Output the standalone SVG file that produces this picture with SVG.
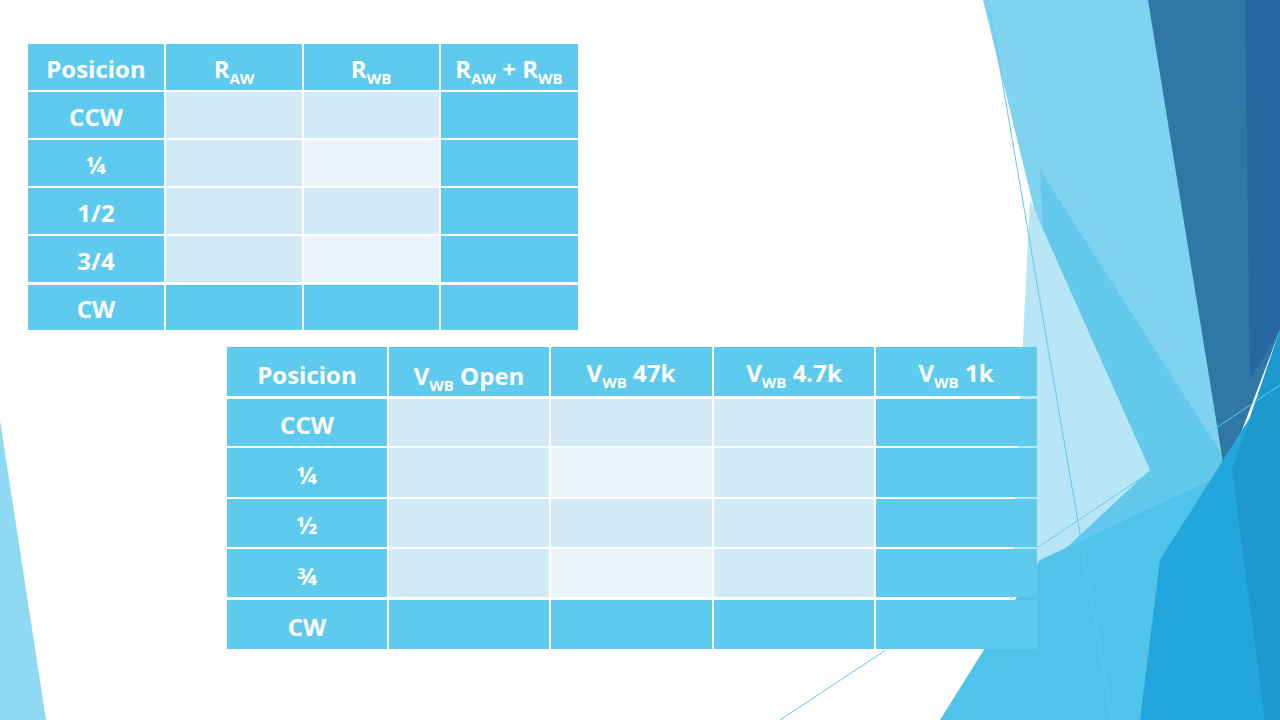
<svg xmlns="http://www.w3.org/2000/svg" width="1280" height="720" viewBox="0 0 1280 720">
<style>
.h{fill:#5ecbee}.a{fill:#d3eaf7}.b{fill:#eaf5fb}
text{font-family:"Open Sans","DejaVu Sans",sans-serif;font-weight:bold;fill:#fff;font-size:24px;text-anchor:middle}
.s{font-size:15px}
.ln{stroke:#5ecbee;stroke-width:1;fill:none}
</style>
<rect width="1280" height="720" fill="#fff"/>
<g id="deco">
<polygon points="0,420 0,720 46,720" fill="#8fd9f3"/>
<polygon points="983,0 1150,0 1232,470 1120,560" fill="#7fd2f0"/>
<polygon points="1040,170 1232,470 1150,560 1060,600" fill="#62c9ec"/>
<polygon points="1030,200 1150,470 1010,600" fill="#b9e6f7"/>
<polygon points="1148,0 1280,0 1280,330 1225,475" fill="#2f78a6"/>
<polygon points="1245,0 1280,0 1280,330 1250,380" fill="#2868a0"/>
<polygon points="1040,560 1232,470 1280,330 1280,720 940,720" fill="#4fc3ea"/>
<polygon points="1160,560 1280,370 1280,720 1140,720" fill="#22a6dc"/>
<polygon points="1232,470 1280,330 1280,720 1265,720" fill="#1d99cf"/>
<line class="ln" x1="990" y1="10" x2="1112" y2="720"/>
<line class="ln" x1="1037" y1="548" x2="1280" y2="385"/>
<line class="ln" x1="780" y1="720" x2="886" y2="650"/>
</g>
<g id="table1">
<rect class="h" x="28" y="44" width="136" height="46"/><rect class="h" x="166" y="44" width="136" height="46"/><rect class="h" x="304" y="44" width="135" height="46"/><rect class="h" x="441" y="44" width="137" height="46"/>
<rect class="h" x="28" y="92" width="136" height="46"/><rect class="a" x="166" y="92" width="136" height="46"/><rect class="a" x="304" y="92" width="135" height="46"/><rect class="h" x="441" y="92" width="137" height="46"/>
<rect class="h" x="28" y="140" width="136" height="46"/><rect class="a" x="166" y="140" width="136" height="46"/><rect class="b" x="304" y="140" width="135" height="46"/><rect class="h" x="441" y="140" width="137" height="46"/>
<rect class="h" x="28" y="188" width="136" height="46"/><rect class="a" x="166" y="188" width="136" height="46"/><rect class="a" x="304" y="188" width="135" height="46"/><rect class="h" x="441" y="188" width="137" height="46"/>
<rect class="h" x="28" y="236" width="136" height="46"/><rect class="a" x="166" y="236" width="136" height="46"/><rect class="b" x="304" y="236" width="135" height="46"/><rect class="h" x="441" y="236" width="137" height="46"/>
<rect class="h" x="28" y="285" width="136" height="45"/><rect class="h" x="166" y="285" width="136" height="45"/><rect class="h" x="304" y="285" width="135" height="45"/><rect class="h" x="441" y="285" width="137" height="45"/>
<text x="96" y="78">Posicion</text>
<text x="234" y="78">R<tspan class="s" dy="6">AW</tspan></text>
<text x="371" y="78">R<tspan class="s" dy="6">WB</tspan></text>
<text x="509" y="78">R<tspan class="s" dy="6">AW</tspan><tspan dy="-6"> + R</tspan><tspan class="s" dy="6">WB</tspan></text>
<text x="96" y="126">CCW</text><text x="96" y="174">¼</text><text x="96" y="222">1/2</text><text x="96" y="270">3/4</text><text x="96" y="318">CW</text>
</g>
<g id="table2">
<rect class="h" x="227" y="347" width="160" height="49"/><rect class="h" x="389" y="347" width="160" height="49"/><rect class="h" x="551" y="347" width="161" height="49"/><rect class="h" x="714" y="347" width="160" height="49"/><rect class="h" x="876" y="347" width="161" height="49"/>
<rect class="h" x="227" y="399" width="160" height="47"/><rect class="a" x="389" y="399" width="160" height="47"/><rect class="a" x="551" y="399" width="161" height="47"/><rect class="a" x="714" y="399" width="160" height="47"/><rect class="h" x="876" y="399" width="161" height="47"/>
<rect class="h" x="227" y="448" width="160" height="49"/><rect class="a" x="389" y="448" width="160" height="49"/><rect class="b" x="551" y="448" width="161" height="49"/><rect class="a" x="714" y="448" width="160" height="49"/><rect class="h" x="876" y="448" width="161" height="49"/>
<rect class="h" x="227" y="499" width="160" height="48"/><rect class="a" x="389" y="499" width="160" height="48"/><rect class="a" x="551" y="499" width="161" height="48"/><rect class="a" x="714" y="499" width="160" height="48"/><rect class="h" x="876" y="499" width="161" height="48"/>
<rect class="h" x="227" y="549" width="160" height="48"/><rect class="a" x="389" y="549" width="160" height="48"/><rect class="b" x="551" y="549" width="161" height="48"/><rect class="a" x="714" y="549" width="160" height="48"/><rect class="h" x="876" y="549" width="161" height="48"/>
<rect class="h" x="227" y="600" width="160" height="49"/><rect class="h" x="389" y="600" width="160" height="49"/><rect class="h" x="551" y="600" width="161" height="49"/><rect class="h" x="714" y="600" width="160" height="49"/><rect class="h" x="876" y="600" width="161" height="49"/>
<text x="307" y="384">Posicion</text>
<text x="469" y="385">V<tspan class="s" dy="6">WB</tspan><tspan dy="-6"> Open</tspan></text>
<text x="631" y="382">V<tspan class="s" dy="6">WB</tspan><tspan dy="-6"> 47k</tspan></text>
<text x="794" y="382">V<tspan class="s" dy="6">WB</tspan><tspan dy="-6"> 4.7k</tspan></text>
<text x="956" y="382">V<tspan class="s" dy="6">WB</tspan><tspan dy="-6"> 1k</tspan></text>
<text x="307" y="434">CCW</text><text x="307" y="484">¼</text><text x="307" y="534">½</text><text x="307" y="585">¾</text><text x="307" y="636">CW</text>
</g>
<g id="connectors"/>
</svg>
